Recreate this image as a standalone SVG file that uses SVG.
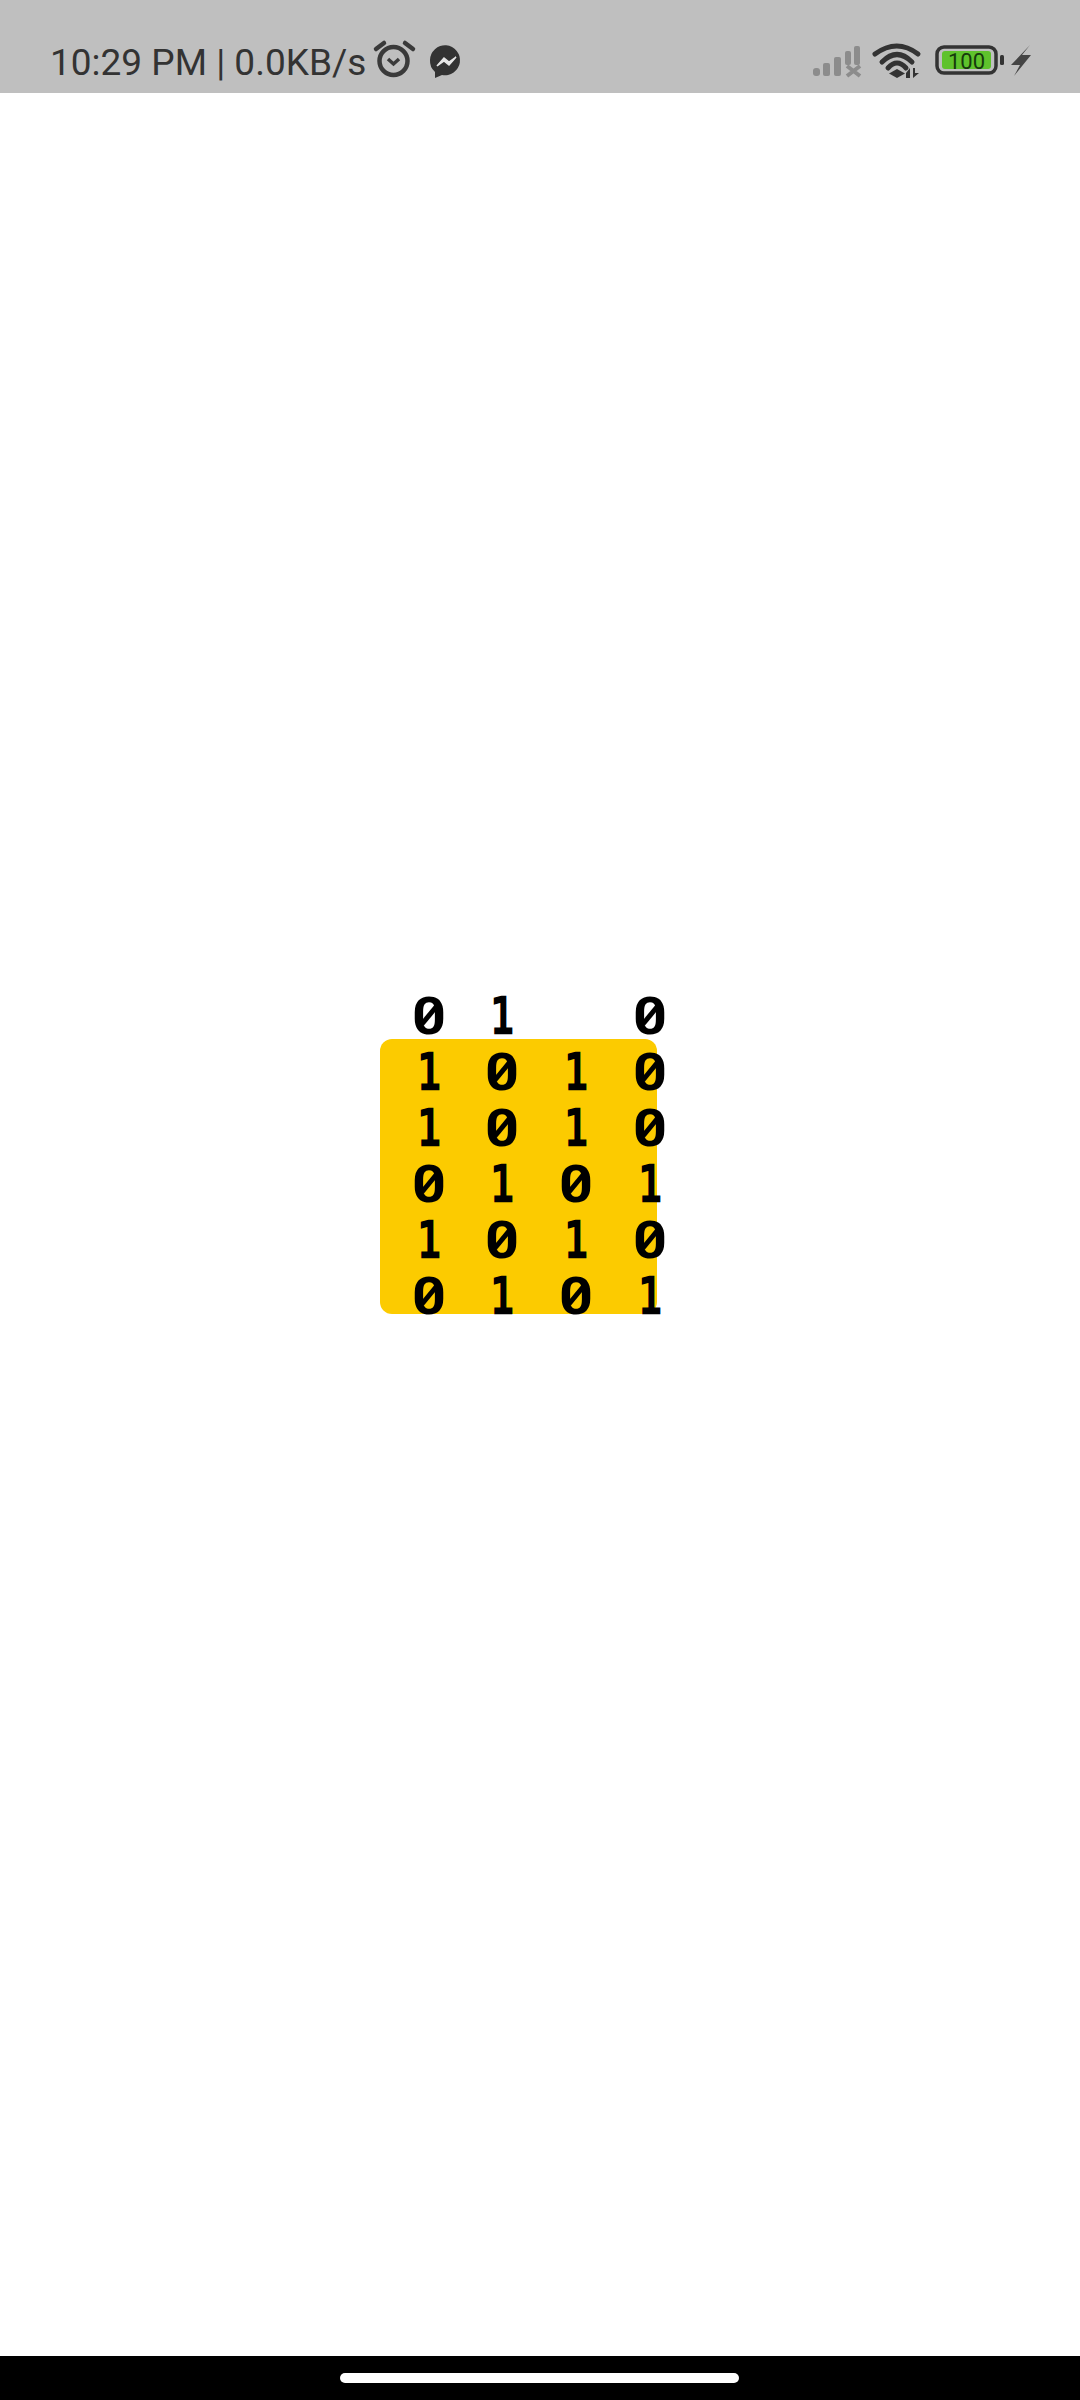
<svg xmlns="http://www.w3.org/2000/svg" width="1080" height="2400" viewBox="0 0 1080 2400">
<style>
.d{font-family:Roboto,"Liberation Sans",sans-serif;font-weight:700;font-size:52px;fill:#000;text-anchor:middle}
.o{font-family:"DejaVu Sans Mono","Liberation Mono",monospace;font-weight:400;font-size:49px;stroke:#000;stroke-width:2.500px}
.s{font-family:Roboto,"Liberation Sans",sans-serif;fill:#333}
.sig{fill:#8c8c8c}
.w{fill:none;stroke:#333;stroke-width:5;stroke-linecap:round}
</style>
<defs>
<path id="slash" d="M-7-10L7-27" stroke="#000" stroke-width="5" fill="none"/>
</defs>
<rect width="1080" height="2400" fill="#fff"/>
<g id="status-bar">
<rect width="1080" height="93" fill="#bfbfbf"/>
<text class="s" x="50" y="75" font-size="37">10:29 PM | 0.0KB/s</text>
<g id="alarm" fill="none" stroke="#3a3a3a" stroke-width="4.5">
<circle cx="393.500" cy="61" r="14"/>
<path d="M388 59l5.500 5 5.500-5" stroke-width="3.500"/>
<path d="M376 49l8-6M413 49l-8-6" stroke-linecap="round"/>
</g>
<g id="messenger">
<path d="M430 60a15 15 0 1 1 12 15l-7 3v-6a15 15 0 0 1-5-12z" fill="#333"/>
<path d="M437 66l7-8 5 4 7-5-7 8-5-4z" fill="#e6e6e6" stroke="#e6e6e6" stroke-width="1.500"/>
</g>
<g id="signal" class="sig">
<rect x="813" y="68" width="7" height="8" rx="3"/>
<rect x="823" y="63" width="7" height="13" rx="2"/>
<rect x="834" y="57" width="7" height="19" rx="2"/>
<rect x="845" y="51" width="6" height="14" rx="2"/>
<rect x="854" y="46" width="6" height="19" rx="2"/>
<path d="M847 66l13 10M860 66l-13 10" stroke="#8c8c8c" stroke-width="4" fill="none"/>
</g>
<g id="wifi">
<path class="w" d="M875 54Q897 38 918 54"/>
<path class="w" d="M882 62Q897 47 912 62"/>
<path class="w" d="M888 68Q897 58 906 68"/>
<path d="M897 69l8 4.500-8 4.500-8-4.500z" fill="#333"/>
<path d="M906 73l4-5v10h-4zM913 68h2v5h4l-6 5z" fill="#333"/>
</g>
<g id="battery">
<rect x="937" y="47" width="59" height="26" rx="7" fill="none" stroke="#333" stroke-width="3.500"/>
<rect x="942" y="51" width="49" height="18" rx="3" fill="#5fc22c"/>
<text x="966.500" y="69" text-anchor="middle" font-size="22" font-family="Roboto,'Liberation Sans',sans-serif" fill="#163a0c">100</text>
<rect x="1000" y="55" width="4" height="10" rx="1.500" fill="#333"/>
<path d="M1030 45L1011 65h9l-6 11 17-21h-9z" fill="#444"/>
</g>
</g>
<g id="grid-panel"><path d="M392 1039H645a12 12 0 0 1 12 12V1302a12 12 0 0 1-12 12H392a12 12 0 0 1-12-12V1051a12 12 0 0 1 12-12z" fill="#fccb00"/></g>
<g id="digits">
<g id="row-0"><text class="d" x="429" y="1034" textLength="34" lengthAdjust="spacingAndGlyphs">0</text><use href="#slash" x="429" y="1034"/><text class="d o" x="502" y="1033" textLength="24" lengthAdjust="spacingAndGlyphs">1</text><text class="d" x="650" y="1034" textLength="34" lengthAdjust="spacingAndGlyphs">0</text><use href="#slash" x="650" y="1034"/></g>
<g id="row-1"><text class="d o" x="429" y="1089" textLength="24" lengthAdjust="spacingAndGlyphs">1</text><text class="d" x="502" y="1090" textLength="34" lengthAdjust="spacingAndGlyphs">0</text><use href="#slash" x="502" y="1090"/><text class="d o" x="576" y="1089" textLength="24" lengthAdjust="spacingAndGlyphs">1</text><text class="d" x="650" y="1090" textLength="34" lengthAdjust="spacingAndGlyphs">0</text><use href="#slash" x="650" y="1090"/></g>
<g id="row-2"><text class="d o" x="429" y="1145" textLength="24" lengthAdjust="spacingAndGlyphs">1</text><text class="d" x="502" y="1146" textLength="34" lengthAdjust="spacingAndGlyphs">0</text><use href="#slash" x="502" y="1146"/><text class="d o" x="576" y="1145" textLength="24" lengthAdjust="spacingAndGlyphs">1</text><text class="d" x="650" y="1146" textLength="34" lengthAdjust="spacingAndGlyphs">0</text><use href="#slash" x="650" y="1146"/></g>
<g id="row-3"><text class="d" x="429" y="1202" textLength="34" lengthAdjust="spacingAndGlyphs">0</text><use href="#slash" x="429" y="1202"/><text class="d o" x="502" y="1201" textLength="24" lengthAdjust="spacingAndGlyphs">1</text><text class="d" x="576" y="1202" textLength="34" lengthAdjust="spacingAndGlyphs">0</text><use href="#slash" x="576" y="1202"/><text class="d o" x="650" y="1201" textLength="24" lengthAdjust="spacingAndGlyphs">1</text></g>
<g id="row-4"><text class="d o" x="429" y="1257" textLength="24" lengthAdjust="spacingAndGlyphs">1</text><text class="d" x="502" y="1258" textLength="34" lengthAdjust="spacingAndGlyphs">0</text><use href="#slash" x="502" y="1258"/><text class="d o" x="576" y="1257" textLength="24" lengthAdjust="spacingAndGlyphs">1</text><text class="d" x="650" y="1258" textLength="34" lengthAdjust="spacingAndGlyphs">0</text><use href="#slash" x="650" y="1258"/></g>
<g id="row-5"><text class="d" x="429" y="1314" textLength="34" lengthAdjust="spacingAndGlyphs">0</text><use href="#slash" x="429" y="1314"/><text class="d o" x="502" y="1313" textLength="24" lengthAdjust="spacingAndGlyphs">1</text><text class="d" x="576" y="1314" textLength="34" lengthAdjust="spacingAndGlyphs">0</text><use href="#slash" x="576" y="1314"/><text class="d o" x="650" y="1313" textLength="24" lengthAdjust="spacingAndGlyphs">1</text></g>
</g>
<g id="nav-bar">
<rect y="2356" width="1080" height="44" fill="#000"/>
<rect x="340" y="2373" width="399" height="10" rx="5" fill="#fff"/>
</g>
</svg>
